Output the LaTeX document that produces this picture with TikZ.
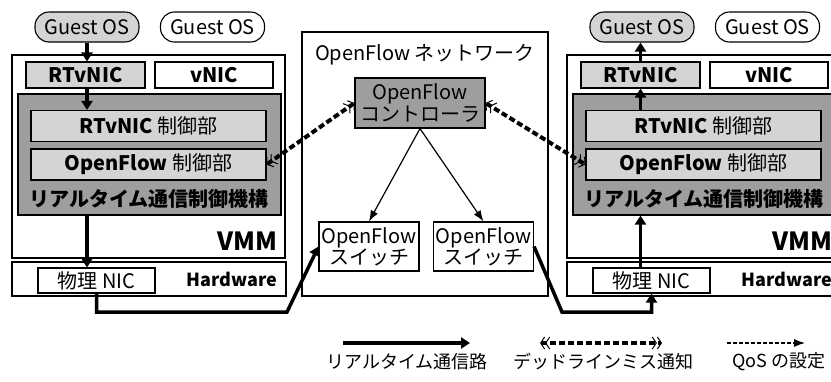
\documentclass[tikz,border=0pt]{standalone}
\usepackage{fontspec}
\setmainfont{Noto Sans CJK JP}
\usetikzlibrary{arrows.meta}
\definecolor{paleFill}{gray}{0.83}
\definecolor{midFill}{gray}{0.62}

\begin{document}
\begin{tikzpicture}[
  x=1pt, y=-1pt,
  font=\fontsize{20}{22}\selectfont,
  box/.style={draw, line width=1.1pt, inner sep=0pt, align=center},
  pale/.style={box, fill=paleFill},
  mid/.style={box, fill=midFill},
  guest/.style={box, rounded corners=14pt, minimum width=104pt, minimum height=30pt},
  ctl/.style={pale, minimum width=235pt, minimum height=31pt},
  nicbox/.style={box, minimum width=117pt, minimum height=25pt},
  ofs/.style={box, fill=white, minimum width=100pt, minimum height=49pt, font=\fontsize{20}{21}\selectfont},
  bold/.style={font=\fontsize{20}{22}\selectfont\bfseries},
  rt/.style={line width=3.5pt, -{Triangle[length=9pt, width=11pt]}},
  miss/.style={line width=4pt, dash pattern=on 6pt off 3pt,
               {Straight Barb[length=4pt, width=12pt, line width=1pt] Straight Barb[length=4pt, width=12pt, line width=1pt]}-{Straight Barb[length=4pt, width=12pt, line width=1pt] Straight Barb[length=4pt, width=12pt, line width=1pt]}},
  qos/.style={line width=1.2pt, -{Latex[length=11pt, width=8pt]}},
]
\useasboundingbox (0,0) rectangle (831,381);
\clip (0,0) rectangle (831,381);

\node[pale, guest] (gosL) at (87,27) {Guest OS};
\node[guest] (gosL2) at (212.5,27) {Guest OS};
\node[box, minimum width=273pt, minimum height=203pt] (vmmL) at (148.5,156.5) {};
\node[anchor=east, font=\fontsize{25}{27}\selectfont\bfseries] (vmmlabL) at (281,241) {VMM};
\node[pale, bold, minimum width=119pt, minimum height=26pt] (rtvL) at (85.5,75) {RTvNIC};
\node[box, bold, minimum width=118pt, minimum height=26pt] (vnicL) at (214,75) {vNIC};
\node[mid, minimum width=263pt, minimum height=121pt] (rtcL) at (149.5,154.5) {};
\node[ctl] (rtcctlL) at (148.5,126) {{\bfseries RTvNIC} 制御部};
\node[ctl] (ofctlL) at (148.5,164.5) {{\bfseries OpenFlow} 制御部};
\node[bold] (rtclabL) at (149,199) {リアルタイム通信制御機構};
\node[box, minimum width=274pt, minimum height=34pt] (hwL) at (149,279) {};
\node[nicbox] (nicL) at (96.5,280.5) {物理 NIC};
\node[anchor=east, font=\fontsize{18}{20}\selectfont\bfseries] (hwlabL) at (281,279) {Hardware};

\node[box, minimum width=246pt, minimum height=264pt] (net) at (425,164) {};
\node (nettitle) at (425,55) {OpenFlow ネットワーク};
\node[mid, minimum width=130pt, minimum height=50pt] (ctrl) at (420,103) {OpenFlow\\コントローラ};
\node[ofs] (sw1) at (369,246.5) {OpenFlow\\スイッチ};
\node[ofs] (sw2) at (483.5,246.5) {OpenFlow\\スイッチ};

\node[pale, guest] (gosR) at (642,27) {Guest OS};
\node[guest] (gosR2) at (767.5,27) {Guest OS};
\node[box, minimum width=273pt, minimum height=203pt] (vmmR) at (703.5,156.5) {};
\node[anchor=east, font=\fontsize{25}{27}\selectfont\bfseries] (vmmlabR) at (836,241) {VMM};
\node[pale, bold, minimum width=119pt, minimum height=26pt] (rtvR) at (640.5,75) {RTvNIC};
\node[box, bold, minimum width=118pt, minimum height=26pt] (vnicR) at (769,75) {vNIC};
\node[mid, minimum width=263pt, minimum height=121pt] (rtcR) at (704.5,154.5) {};
\node[ctl] (rtcctlR) at (703.5,126) {{\bfseries RTvNIC} 制御部};
\node[ctl] (ofctlR) at (703.5,164.5) {{\bfseries OpenFlow} 制御部};
\node[bold] (rtclabR) at (704,199) {リアルタイム通信制御機構};
\node[box, minimum width=274pt, minimum height=34pt] (hwR) at (704,279) {};
\node[nicbox] (nicR) at (651.5,280.5) {物理 NIC};
\node[anchor=east, font=\fontsize{18}{20}\selectfont\bfseries] (hwlabR) at (836,279) {Hardware};

\draw[rt] (gosL.south) -- (gosL.south |- rtvL.north);
\draw[rt] (rtvL.south -| gosL) -- (rtcctlL.north -| gosL);
\draw[rt] (rtcL.south -| gosL) -- (nicL.north -| gosL);
\coordinate (bendL) at (287,312);
\draw[rt] (nicL.south) -- (nicL.south |- bendL) -- (bendL) -- (sw1.west);

\draw[rt] (nicR.north -| rtvR) -- (rtcR.south -| rtvR);
\draw[rt] (rtcctlR.north -| rtvR) -- (rtvR.south);
\draw[rt] (rtvR.north) -- (rtvR.north |- gosR.south);
\coordinate (bendR) at (562,312);
\draw[rt] (sw2.east) -- (bendR) -- (bendR -| nicR.south) -- (nicR.south);

\draw[qos] (ctrl.south) -- (sw1.north);
\draw[qos] (ctrl.south) -- (sw2.north);
\draw[miss] (ofctlL.east) -- (ctrl.west);
\draw[miss] (ctrl.east) -- (ofctlR.west);

\coordinate (rtA) at (343,343);
\coordinate (rtB) at (470,343);
\coordinate (missA) at (540,343);
\coordinate (missB) at (662,343);
\coordinate (qosA) at (727,343);
\coordinate (qosB) at (805,343);
\draw[rt] (rtA) -- (rtB);
\draw[miss] (missA) -- (missB);
\draw[qos, dash pattern=on 4pt off 2pt] (qosA) -- (qosB);
\node[font=\fontsize{18}{20}\selectfont] (rtlab) at (407,362) {リアルタイム通信路};
\node[font=\fontsize{18}{20}\selectfont] (misslab) at (603,362) {デッドラインミス通知};
\node[font=\fontsize{18}{20}\selectfont] (qoslab) at (779,362) {QoS の設定};
\end{tikzpicture}
\end{document}
